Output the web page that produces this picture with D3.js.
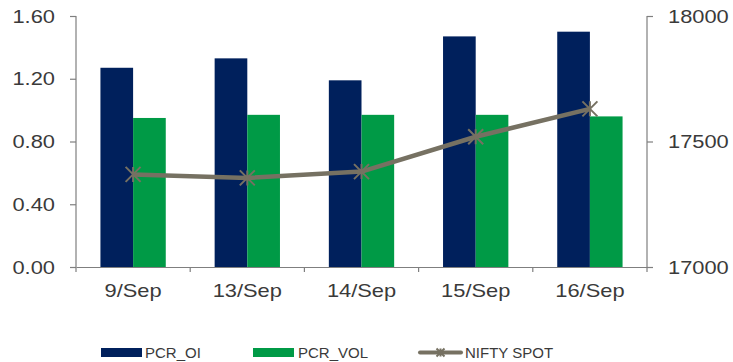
<!DOCTYPE html>
<html>
<head>
<meta charset="utf-8">
<script src="https://cdn.jsdelivr.net/npm/d3@7"></script>
<style>
  html, body { margin: 0; padding: 0; background: #fff; }
  svg { display: block; font-family: "Liberation Sans", Arial, sans-serif; }
</style>
</head>
<body>
<svg id="chart" width="733" height="362"></svg>
<script>
// Put-call ratios and Nifty spot by trading day
const categories = ["9/Sep", "13/Sep", "14/Sep", "15/Sep", "16/Sep"];
const pcrOI = [1.27, 1.33, 1.19, 1.47, 1.50];
const pcrVOL = [0.95, 0.97, 0.97, 0.97, 0.96];
const niftySpot = [17369, 17355, 17380, 17519, 17630];
const leftTicks = [0, 0.4, 0.8, 1.2, 1.6];
const rightTicks = [17000, 17500, 18000];

const svg = d3.select("#chart");
const m = { left: 76, right: 647, top: 16, bottom: 267 };
const textColor = "#3a3a3a";
const axisColor = "#7f7f7f";

const x = d3.scaleBand().domain(categories).range([m.left, m.right]).padding(0);
const yL = d3.scaleLinear().domain([0, 1.6]).range([m.bottom, m.top]);
const yR = d3.scaleLinear().domain([17000, 18000]).range([m.bottom, m.top]);
const barW = x.bandwidth() * 0.286;

// Bars
const g = svg.append("g");
g.selectAll("rect.oi").data(categories).join("rect")
  .attr("x", (d) => x(d) + x.bandwidth() / 2 - barW)
  .attr("y", (d, i) => yL(pcrOI[i]))
  .attr("width", barW)
  .attr("height", (d, i) => m.bottom - yL(pcrOI[i]))
  .attr("fill", "#00205c");
g.selectAll("rect.vol").data(categories).join("rect")
  .attr("x", (d) => x(d) + x.bandwidth() / 2)
  .attr("y", (d, i) => yL(pcrVOL[i]))
  .attr("width", barW)
  .attr("height", (d, i) => m.bottom - yL(pcrVOL[i]))
  .attr("fill", "#009a46");

// Left axis
const axL = svg.append("g").attr("transform", `translate(${m.left},0)`)
  .call(d3.axisLeft(yL).tickValues(leftTicks).tickFormat(d3.format(".2f")).tickSizeOuter(0).tickSize(6).tickPadding(15));
// Right axis
const axR = svg.append("g").attr("transform", `translate(${m.right},0)`)
  .call(d3.axisRight(yR).tickValues(rightTicks).tickFormat(d3.format("d")).tickSizeOuter(0).tickSize(6).tickPadding(15));
// Bottom axis with ticks at category boundaries
const axB = svg.append("g").attr("transform", `translate(0,${m.bottom})`)
  .call(d3.axisBottom(x).tickSize(0).tickSizeOuter(0).tickPadding(17));
axB.selectAll(".bnd").data(categories.concat(["_end"])).join("line")
  .attr("x1", (d, i) => m.left + i * x.step())
  .attr("x2", (d, i) => m.left + i * x.step())
  .attr("y1", 0).attr("y2", 5)
  .attr("stroke", axisColor).attr("stroke-width", 1.2);

[axL, axR, axB].forEach((a) => {
  a.selectAll(".domain").attr("stroke", axisColor).attr("stroke-width", 1.2);
  a.selectAll(".tick line").attr("stroke", axisColor).attr("stroke-width", 1.2);
  a.selectAll("text").attr("fill", textColor).style("font-size", "19px")
    .each(function () {
      // axis labels are set in a slightly wide face
      const w = this.getComputedTextLength();
      d3.select(this).attr("textLength", w * 1.15).attr("lengthAdjust", "spacingAndGlyphs");
    });
});
axL.select(".domain").attr("d", `M0,${m.top}V${m.bottom}`);
axR.select(".domain").attr("d", `M0,${m.top}V${m.bottom}`);

// Nifty spot line
const lineColor = "#767162";
const cx = (i) => x(categories[i]) + x.bandwidth() / 2;
svg.append("path")
  .datum(niftySpot)
  .attr("d", d3.line().x((d, i) => cx(i)).y((d) => yR(d)))
  .attr("fill", "none").attr("stroke", lineColor).attr("stroke-width", 4.5)
  .attr("stroke-linejoin", "round");

function starMarker(sel, px, py, s) {
  sel.append("path")
    .attr("d", `M${px - s},${py - s}L${px + s},${py + s}M${px - s},${py + s}L${px + s},${py - s}M${px},${py - s}L${px},${py + s}`)
    .attr("stroke", lineColor).attr("stroke-width", 2).attr("fill", "none");
}
niftySpot.forEach((v, i) => starMarker(svg, cx(i), yR(v), 7.5));

// Legend
const leg = svg.append("g").style("font-size", "15px").attr("fill", textColor);
leg.append("rect").attr("x", 101).attr("y", 348).attr("width", 41).attr("height", 9).attr("fill", "#00205c");
leg.append("text").attr("x", 145).attr("y", 358).text("PCR_OI");
leg.append("rect").attr("x", 253).attr("y", 348).attr("width", 41).attr("height", 9).attr("fill", "#009a46");
leg.append("text").attr("x", 298).attr("y", 358).text("PCR_VOL");
leg.append("line").attr("x1", 420).attr("x2", 461).attr("y1", 352.5).attr("y2", 352.5)
  .attr("stroke", lineColor).attr("stroke-width", 4).attr("stroke-linecap", "round");
starMarker(leg, 440.5, 352.5, 4);
leg.append("text").attr("x", 465).attr("y", 358).text("NIFTY SPOT");
</script>
</body>
</html>
